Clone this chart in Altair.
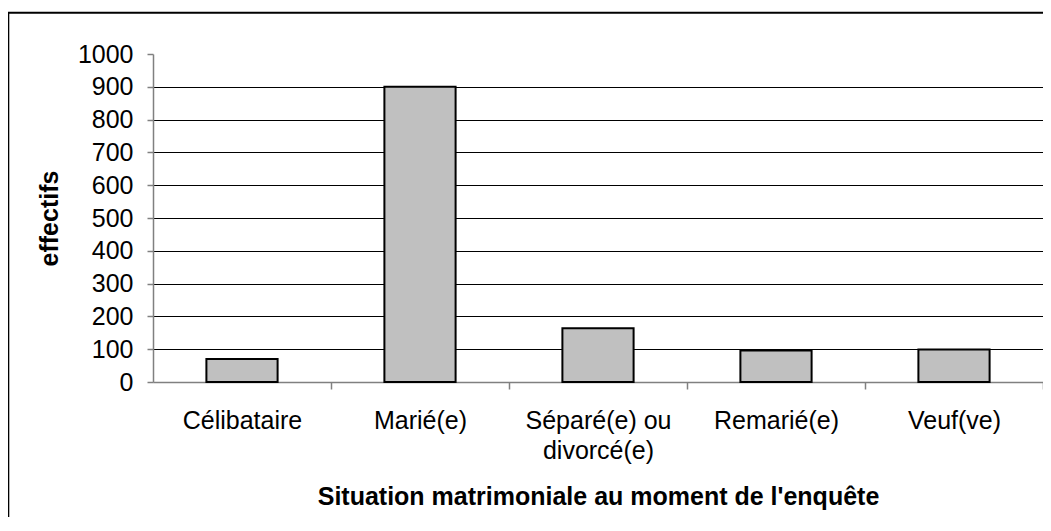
import altair as alt
import pandas as pd

categories = ["Célibataire", "Marié(e)", "Séparé(e) ou divorcé(e)", "Remarié(e)", "Veuf(ve)"]
effectifs = [70, 900, 164, 96, 99]
y_ticks = [0, 100, 200, 300, 400, 500, 600, 700, 800, 900, 1000]

df = pd.DataFrame({"situation": categories, "effectifs": effectifs})
frame_df = pd.DataFrame({"k": [0]})

FONT = "Liberation Sans"
STEP = 890 / 5
HALF_GAP = STEP * 0.6 / 2

frame = alt.Chart(frame_df).mark_rect(filled=False, stroke="black", strokeWidth=2).encode(
    x=alt.value(-144.7), x2=alt.value(950), y=alt.value(-41.2), y2=alt.value(600)
)

bars = alt.Chart(df).mark_bar(fill="#c0c0c0", stroke="black", strokeWidth=2).encode(
    x=alt.X(
        "situation:N",
        sort=categories,
        scale=alt.Scale(paddingInner=0.6, paddingOuter=0.3),
        axis=alt.Axis(
            title="Situation matrimoniale au moment de l'enquête",
            labelAngle=0,
            labelExpr="datum.label == 'Séparé(e) ou divorcé(e)' ? ['Séparé(e) ou', 'divorcé(e)'] : datum.label",
            labelLineHeight=30,
            labelPadding=19,
            labelOffset=-HALF_GAP,
            tickSize=7,
            bandPosition=1,
            tickOffset=HALF_GAP,
            grid=False,
            titleBaseline="alphabetic",
            titleY=122,
            titleX=445,
        ),
    ),
    y=alt.Y(
        "effectifs:Q",
        scale=alt.Scale(domain=[0, 1000], nice=False),
        axis=alt.Axis(
            title="effectifs",
            values=y_ticks,
            format="d",
            tickSize=6,
            labelPadding=14,
            grid=True,
            gridColor="black",
            gridWidth=1,
            gridOpacity=alt.condition("datum.value == 1000 || datum.value == 0", alt.value(0), alt.value(1)),
            titleBaseline="alphabetic",
            titleX=-96,
            titleY=164,
            titleAlign="center",
        ),
    ),
)

chart = alt.layer(frame, bars).properties(
    width=890,
    height=328,
    padding={"left": 145, "top": 46, "right": 0, "bottom": 135},
    autosize=alt.AutoSizeParams(type="none"),
    background="white",
).configure_view(stroke=None).configure_axis(
    labelFont=FONT,
    titleFont=FONT,
    labelFontSize=25,
    titleFontSize=25,
    labelColor="black",
    titleColor="black",
    titleFontWeight="bold",
    domainColor="#808080",
    domainWidth=1.5,
    tickColor="#808080",
    tickWidth=1.5,
    labelFlush=False,
    labelOverlap=False,
)

chart.save("out.html", embed_options={"renderer": "svg", "actions": False})
